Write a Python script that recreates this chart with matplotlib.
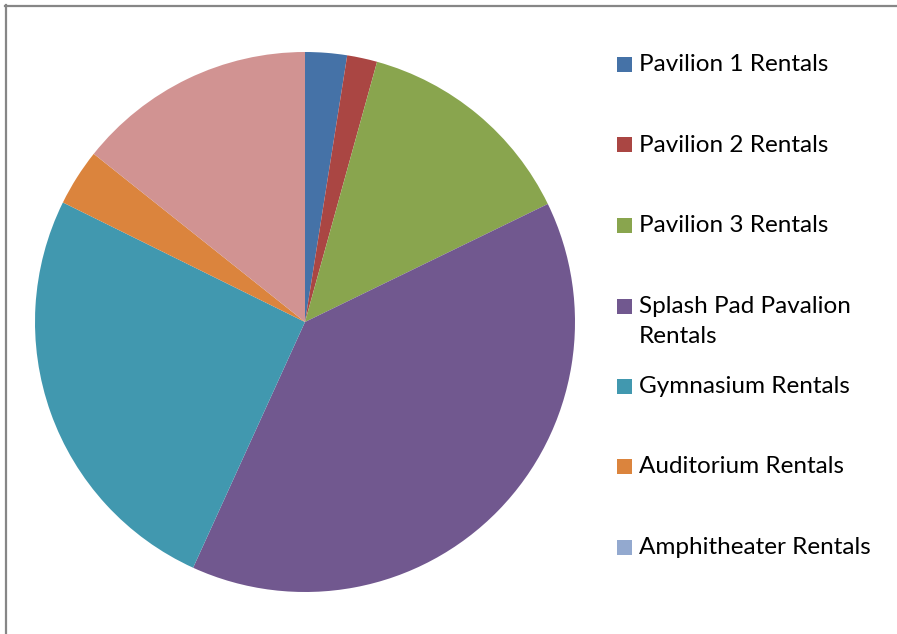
import matplotlib
matplotlib.use("Agg")
import matplotlib.pyplot as plt
from matplotlib.patches import Rectangle
from matplotlib.lines import Line2D

# Rental share by facility
categories = [
    "Pavilion 1 Rentals",
    "Pavilion 2 Rentals",
    "Pavilion 3 Rentals",
    "Splash Pad Pavalion\nRentals",
    "Gymnasium Rentals",
    "Auditorium Rentals",
    "Amphitheater Rentals",
    "Other Rentals",
]
shares = [2.5, 1.8, 13.5, 39.0, 25.5, 3.4, 0.0, 14.3]
colors = ["#4572A7", "#AA4643", "#89A54E", "#71588F",
          "#4198AF", "#DB843D", "#93A9CF", "#D19392"]
legend_count = 7  # entries that fit in the legend area

W, H = 897, 634
fig = plt.figure(figsize=(W / 100, H / 100), dpi=100)
fig.patch.set_facecolor("white")

# pie area: centre (305, 322) px, radius 270 px
cx, cy, r = 305, 322, 270
ax = fig.add_axes([(cx - r) / W, (H - cy - r) / H, 2 * r / W, 2 * r / H])
ax.pie(shares, colors=colors, startangle=90, counterclock=False,
       radius=1.0, wedgeprops=dict(linewidth=0))
ax.set_xlim(-1, 1)
ax.set_ylim(-1, 1)
ax.set_aspect("equal")
ax.axis("off")

# legend drawn as evenly spaced rows
font = ["Lato", "DejaVu Sans"]
row_y = [64, 145, 225, 306, 386, 466, 547]
sq = 15
for label, color, y in zip(categories[:legend_count], colors, row_y):
    fig.patches.append(Rectangle((617 / W, (H - y - sq / 2) / H), sq / W, sq / H,
                                 transform=fig.transFigure, facecolor=color,
                                 edgecolor="none"))
    fig.text(639 / W, (H - y + 10) / H, label, transform=fig.transFigure,
             ha="left", va="top", fontsize=17.5, family=font,
             color="#000000", linespacing=1.55)

# chart frame (top and left edges)
fig.add_artist(Line2D([5 / W, 1], [(H - 5.5) / H, (H - 5.5) / H],
                      transform=fig.transFigure, color="#868686", linewidth=1.6))
fig.add_artist(Line2D([5.5 / W, 5.5 / W], [0, (H - 5) / H],
                      transform=fig.transFigure, color="#868686", linewidth=1.6))

fig.savefig("out.png", dpi=100, facecolor="white")
